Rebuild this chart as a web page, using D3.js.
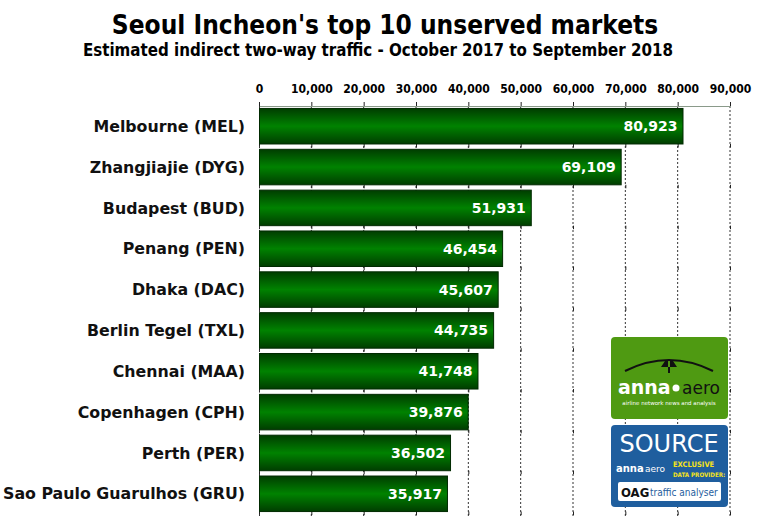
<!DOCTYPE html>
<html>
<head>
<meta charset="utf-8">
<script src="https://cdn.jsdelivr.net/npm/d3@7"></script>
<style>
  body { margin: 0; background: #fff; }
  text { font-family: "DejaVu Sans", Verdana, sans-serif; }
</style>
</head>
<body>
<div id="graph"></div>
<script>
var airports = ["Melbourne (MEL)", "Zhangjiajie (DYG)", "Budapest (BUD)", "Penang (PEN)", "Dhaka (DAC)",
  "Berlin Tegel (TXL)", "Chennai (MAA)", "Copenhagen (CPH)", "Perth (PER)", "Sao Paulo Guarulhos (GRU)"];
var traffic = [80923, 69109, 51931, 46454, 45607, 44735, 41748, 39876, 36502, 35917];
var tickValues = [0, 10000, 20000, 30000, 40000, 50000, 60000, 70000, 80000, 90000];

var W = 757, H = 520;
var margin = {top: 106, right: 27, bottom: 6, left: 259},
    width = W - margin.left - margin.right,
    height = H - margin.top - margin.bottom;

var svg = d3.select("#graph").append("svg")
    .attr("width", W)
    .attr("height", H);

var defs = svg.append("defs");
var grad = defs.append("linearGradient")
    .attr("id", "barGrad")
    .attr("x1", 0).attr("y1", 0).attr("x2", 0).attr("y2", 1);
grad.append("stop").attr("offset", "0%").attr("stop-color", "#003d00");
grad.append("stop").attr("offset", "50%").attr("stop-color", "#008200");
grad.append("stop").attr("offset", "100%").attr("stop-color", "#003d00");

// titles
svg.append("text")
    .attr("x", 385).attr("y", 34)
    .attr("text-anchor", "middle")
    .style("font-family", "'DejaVu Sans Condensed', 'DejaVu Sans', sans-serif")
    .style("font-weight", "bold")
    .style("font-size", "26px")
    .text("Seoul Incheon's top 10 unserved markets");
svg.append("text")
    .attr("x", 378).attr("y", 56)
    .attr("text-anchor", "middle")
    .style("font-family", "'DejaVu Sans Condensed', 'DejaVu Sans', sans-serif")
    .style("font-weight", "bold")
    .style("font-size", "16.8px")
    .text("Estimated indirect two-way traffic - October 2017 to September 2018");

var g = svg.append("g")
    .attr("transform", "translate(" + margin.left + "," + margin.top + ")");

var x = d3.scaleLinear().domain([0, 90000]).range([0, width]);
var y = d3.scaleBand().domain(airports).range([0, height]).paddingInner(0.13).paddingOuter(0.06);

// dashed grid
g.selectAll(".grid")
    .data(tickValues.slice(1))
    .enter().append("line")
    .attr("class", "grid")
    .attr("x1", function(d) { return x(d); })
    .attr("x2", function(d) { return x(d); })
    .attr("y1", 0).attr("y2", height + 2)
    .style("stroke", "#333")
    .style("stroke-width", 1)
    .style("stroke-dasharray", "2,2");

// small ticks between rows
var gaps = airports.map(function(a) { return y(a) + y.bandwidth(); });
gaps.forEach(function(gy) {
  g.selectAll(null)
      .data(tickValues)
      .enter().append("line")
      .attr("x1", function(d) { return x(d) + 0.5; })
      .attr("x2", function(d) { return x(d) + 0.5; })
      .attr("y1", gy).attr("y2", gy + 3.5)
      .style("stroke", "#222");
});

// axis
var xAxis = d3.axisTop(x).tickValues(tickValues).tickSize(4).tickPadding(9)
    .tickFormat(function(d) { return d === 0 ? "0" : d3.format(",")(d); });
var ax = g.append("g").attr("class", "x axis").call(xAxis);
ax.select(".domain").style("stroke", "#8a9a8a");
ax.selectAll(".tick line").style("stroke", "#222");
ax.selectAll(".tick text")
    .style("font-family", "'DejaVu Sans Condensed', 'DejaVu Sans', sans-serif")
    .style("font-weight", "bold")
    .style("font-size", "12px")
    .style("fill", "#000");

// left axis line
g.append("line")
    .attr("x1", 0.5).attr("x2", 0.5)
    .attr("y1", 0).attr("y2", height + 2)
    .style("stroke", "#333")
    .style("stroke-dasharray", "2,2");

// bars
g.selectAll(".bar")
    .data(traffic)
    .enter().append("rect")
    .attr("class", "bar")
    .attr("x", 0.5)
    .attr("y", function(d, i) { return y(airports[i]); })
    .attr("width", function(d) { return x(d); })
    .attr("height", y.bandwidth())
    .style("fill", "url(#barGrad)")
    .style("stroke", "#002a00")
    .style("stroke-width", 1);

// value labels
g.selectAll(".val")
    .data(traffic)
    .enter().append("text")
    .attr("class", "val")
    .attr("x", function(d) { return x(d) - 5; })
    .attr("y", function(d, i) { return y(airports[i]) + y.bandwidth() / 2; })
    .attr("dy", "0.36em")
    .attr("text-anchor", "end")
    .style("font-weight", "bold")
    .style("font-size", "14px")
    .style("fill", "#fff")
    .text(function(d) { return d3.format(",")(d); });

// category labels
g.selectAll(".cat")
    .data(airports)
    .enter().append("text")
    .attr("class", "cat")
    .attr("x", -14)
    .attr("y", function(d) { return y(d) + y.bandwidth() / 2; })
    .attr("dy", "0.36em")
    .attr("text-anchor", "end")
    .style("font-weight", "bold")
    .style("font-size", "15.8px")
    .style("fill", "#111")
    .text(function(d) { return d; });

// logos
var logo1 = svg.append("g").attr("transform", "translate(611,337)");
logo1.append("rect").attr("width", 117).attr("height", 82).attr("rx", 4)
    .style("fill", "#4f9a12");
logo1.append("path")
    .attr("d", "M14,34 Q58,12 102,34")
    .style("fill", "none").style("stroke", "#111").style("stroke-width", 2);
logo1.append("path")
    .attr("d", "M50,30 L66,30 L62,24 L54,24 Z M57,22 L59,22 L59,36 L57,36 Z")
    .style("fill", "#111");
logo1.append("text").attr("x", 7).attr("y", 57)
    .style("font-weight", "bold").style("font-size", "19px").style("fill", "#fff")
    .text("anna");
logo1.append("circle").attr("cx", 65).attr("cy", 51).attr("r", 3.5).style("fill", "#fff");
logo1.append("text").attr("x", 71).attr("y", 57)
    .style("font-size", "17px").style("fill", "#111")
    .text("aero");
logo1.append("text").attr("x", 58).attr("y", 68).attr("text-anchor", "middle")
    .style("font-size", "5.5px").style("fill", "#fff")
    .text("airline network news and analysis");

var logo2 = svg.append("g").attr("transform", "translate(611,425)");
logo2.append("rect").attr("width", 117).attr("height", 82).attr("rx", 4)
    .style("fill", "#1f5e9e");
logo2.append("text").attr("x", 58).attr("y", 27).attr("text-anchor", "middle")
    .style("font-size", "24px").style("fill", "#fff")
    .text("SOURCE");
logo2.append("text").attr("x", 5).attr("y", 47)
    .style("font-weight", "bold").style("font-size", "10px").style("fill", "#fff")
    .text("anna");
logo2.append("text").attr("x", 34).attr("y", 47)
    .style("font-size", "9px").style("fill", "#fff")
    .text("aero");
logo2.append("text").attr("x", 62).attr("y", 42)
    .style("font-family", "'DejaVu Sans Condensed', sans-serif")
    .style("font-weight", "bold").style("font-size", "7.5px").style("fill", "#f5e21a")
    .text("EXCLUSIVE");
logo2.append("text").attr("x", 62).attr("y", 52)
    .style("font-family", "'DejaVu Sans Condensed', sans-serif")
    .style("font-weight", "bold").style("font-size", "6.2px").style("fill", "#f5e21a")
    .text("DATA PROVIDER:");
logo2.append("rect").attr("x", 7).attr("y", 57).attr("width", 103).attr("height", 19).attr("rx", 2)
    .style("fill", "#fff");
logo2.append("text").attr("x", 10).attr("y", 72)
    .style("font-family", "'DejaVu Sans Condensed', sans-serif")
    .style("font-weight", "bold").style("font-size", "13px").style("fill", "#111")
    .text("OAG");
logo2.append("text").attr("x", 39).attr("y", 71)
    .style("font-family", "'DejaVu Sans Condensed', sans-serif")
    .style("font-size", "10px").style("fill", "#1f5e9e")
    .text("traffic analyser");
</script>
</body>
</html>
